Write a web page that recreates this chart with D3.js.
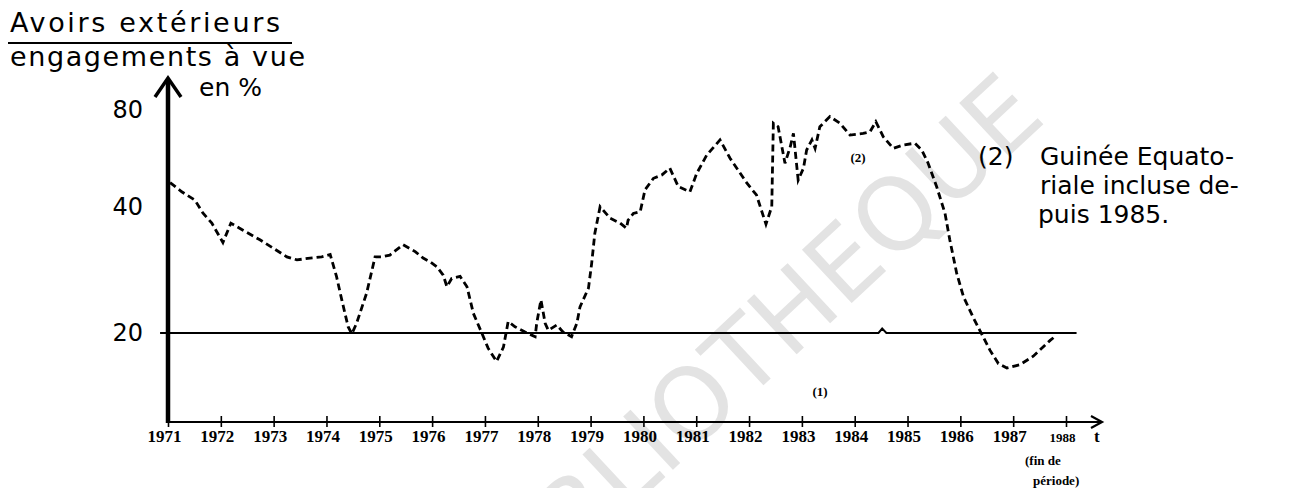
<!DOCTYPE html>
<html>
<head>
<meta charset="utf-8">
<script src="https://cdn.jsdelivr.net/npm/d3@7"></script>
<style>
  body { margin: 0; background: #fff; }
  svg { display: block; }
</style>
</head>
<body>
<div id="chart"></div>
<script>
// série (2) : avoirs extérieurs / engagements à vue, en %
const years_2 = [1971.04, 1971.26, 1971.51, 1971.66, 1971.83, 1972.04, 1972.19, 1972.42, 1972.74, 1972.99,
    1973.25, 1973.44, 1973.69, 1973.91, 1974.07, 1974.19, 1974.29, 1974.41, 1974.48, 1974.57,
    1974.76, 1974.92, 1975.05, 1975.20, 1975.45, 1975.68, 1975.83, 1975.96, 1976.09, 1976.21,
    1976.28, 1976.37, 1976.53, 1976.66, 1976.78, 1976.94, 1977.06, 1977.22, 1977.35, 1977.44,
    1977.57, 1977.76, 1977.95, 1977.98, 1978.06, 1978.14, 1978.20, 1978.36, 1978.48, 1978.64,
    1978.74, 1978.80, 1978.86, 1978.96, 1979.02, 1979.08, 1979.18, 1979.37, 1979.56, 1979.68,
    1979.71, 1979.81, 1979.94, 1980.03, 1980.19, 1980.35, 1980.50, 1980.66, 1980.88, 1981.01,
    1981.20, 1981.45, 1981.64, 1981.96, 1982.14, 1982.32, 1982.43, 1982.46, 1982.55, 1982.68,
    1982.78, 1982.84, 1982.93, 1983.03, 1983.09, 1983.19, 1983.25, 1983.34, 1983.53, 1983.72,
    1983.91, 1984.16, 1984.29, 1984.40, 1984.54, 1984.73, 1984.92, 1985.14, 1985.27, 1985.39,
    1985.55, 1985.71, 1985.80, 1985.93, 1986.06, 1986.25, 1986.43, 1986.56, 1986.72, 1986.88,
    1987.13, 1987.38, 1987.70, 1987.81];
const ratio_2 = [47.6, 44.6, 42.0, 38.7, 36.6, 32.9, 36.6, 35.2, 33.4, 31.9,
    30.4, 29.9, 30.2, 30.4, 30.8, 27.3, 24.0, 20.7, 19.9, 21.1,
    24.9, 30.4, 30.4, 30.7, 32.5, 31.3, 30.2, 29.6, 28.8, 27.5,
    25.8, 27.0, 27.3, 25.8, 22.3, 20.0, 18.4, 17.1, 18.5, 21.3,
    20.7, 20.1, 19.6, 21.1, 24.0, 21.1, 20.3, 20.9, 20.1, 19.6,
    21.1, 23.1, 24.0, 25.6, 29.3, 34.6, 40.1, 37.6, 36.6, 35.6,
    37.2, 38.6, 39.0, 45.2, 49.1, 50.3, 52.8, 46.3, 44.6, 50.9,
    58.0, 64.6, 56.7, 47.4, 43.6, 36.4, 40.1, 72.8, 71.0, 54.7,
    61.5, 67.7, 48.5, 52.8, 60.1, 64.6, 60.8, 71.0, 76.3, 72.8,
    66.9, 67.7, 68.5, 73.6, 66.1, 60.8, 62.3, 63.1, 60.1, 54.7,
    46.3, 38.6, 33.4, 27.8, 24.4, 21.7, 19.6, 18.2, 16.9, 16.5,
    16.8, 17.6, 19.2, 19.7];

// série (1) : seuil de 20 %
const years_1 = [1970.85, 1984.45, 1984.52, 1984.6, 1988.2];
const ratio_1 = [20, 20, 20.5, 20, 20];

const tick_years = [1971, 1972, 1973, 1974, 1975, 1976, 1977, 1978, 1979, 1980,
    1981, 1982, 1983, 1984, 1985, 1986, 1987, 1988];
const y_ticks = [20, 40, 80];

function draw_chart()
{
    const width = 1292, height = 488;
    const svg = d3.select("#chart").append("svg")
        .attr("width", width)
        .attr("height", height);

    // axe vertical dessiné à la main : échelle log par morceaux
    const scale_x = d3.scaleLinear().domain([1971, 1988]).range([168, 1066]);
    const scale_y = d3.scaleLog().domain([20, 40, 80]).range([333, 207, 110]);
    const axis_y0 = 422;

    // filigrane du scan
    svg.append("text")
        .attr("transform", "translate(1048,120) rotate(-43)")
        .attr("text-anchor", "end")
        .style("font-family", "DejaVu Sans")
        .style("font-size", "100px")
        .attr("fill", "#e3e3e3")
        .text("BIBLIOTHEQUE");

    // titre
    const title = svg.append("g").style("font-family", "DejaVu Sans").style("font-size", "27px");
    title.append("text").attr("x", 10).attr("y", 32)
        .attr("textLength", 270).attr("lengthAdjust", "spacing").text("Avoirs extérieurs");
    title.append("line").attr("x1", 8).attr("x2", 292).attr("y1", 43).attr("y2", 43)
        .attr("stroke", "black").attr("stroke-width", 2);
    title.append("text").attr("x", 10).attr("y", 66)
        .attr("textLength", 295).attr("lengthAdjust", "spacing").text("engagements à vue");
    title.append("text").attr("x", 199).attr("y", 96).style("font-size", "25px").text("en %");

    // axe des x
    const x_axis = svg.append("g")
        .attr("transform", `translate(0, ${axis_y0})`)
        .call(d3.axisBottom(scale_x).tickValues(tick_years).tickFormat(d3.format("d")).tickSize(5));
    x_axis.select(".domain").remove();
    x_axis.selectAll(".tick line").attr("y1", -6).attr("y2", 5).attr("stroke-width", 1.6);
    x_axis.selectAll(".tick text")
        .attr("y", 20).attr("dy", 0).attr("dx", -4)
        .style("font-family", "Liberation Serif")
        .style("font-weight", "bold")
        .style("font-size", d => d === 1988 ? "13px" : "17px");

    const x_end = 1102;
    svg.append("line")
        .attr("x1", scale_x(1971)).attr("x2", x_end)
        .attr("y1", axis_y0).attr("y2", axis_y0)
        .attr("stroke", "black").attr("stroke-width", 2);
    svg.append("path")
        .attr("d", `M${x_end - 11},${axis_y0 - 6}L${x_end},${axis_y0}L${x_end - 11},${axis_y0 + 6}`)
        .attr("fill", "none").attr("stroke", "black").attr("stroke-width", 2.2);

    // axe des y
    const y_axis = svg.append("g")
        .attr("transform", `translate(${scale_x(1971)}, 0)`)
        .call(d3.axisLeft(scale_y).tickValues(y_ticks).tickFormat(d3.format("d")).tickSize(0).tickPadding(25));
    y_axis.select(".domain").remove();
    y_axis.selectAll(".tick text")
        .style("font-family", "DejaVu Sans")
        .style("font-size", "24px");

    const x0 = scale_x(1971);
    svg.append("line")
        .attr("x1", x0).attr("x2", x0)
        .attr("y1", axis_y0 + 1).attr("y2", 80)
        .attr("stroke", "black").attr("stroke-width", 4.5);
    svg.append("path")
        .attr("d", `M${x0 - 13},${97}L${x0},${78}L${x0 + 13},${97}`)
        .attr("fill", "none").attr("stroke", "black").attr("stroke-width", 3.5);

    // courbes
    const line = d3.line()
        .x(d => scale_x(d[0]))
        .y(d => scale_y(d[1]));

    svg.append("path")
        .datum(d3.zip(years_1, ratio_1))
        .attr("d", line)
        .attr("fill", "none")
        .attr("stroke", "black")
        .attr("stroke-width", 2);

    svg.append("path")
        .datum(d3.zip(years_2, ratio_2))
        .attr("d", line)
        .attr("fill", "none")
        .attr("stroke", "black")
        .attr("stroke-width", 2.8)
        .attr("stroke-dasharray", "7,4");

    // repères
    const marks = svg.append("g")
        .style("font-family", "Liberation Serif")
        .style("font-weight", "bold")
        .style("font-size", "13px")
        .attr("text-anchor", "middle");
    marks.append("text").attr("x", 858).attr("y", 162).text("(2)");
    marks.append("text").attr("x", 820).attr("y", 396).text("(1)");

    const foot = svg.append("g")
        .style("font-family", "Liberation Serif")
        .style("font-weight", "bold");
    foot.append("text").attr("x", 1094).attr("y", 442).style("font-size", "17px").text("t");
    foot.append("text").attr("x", 1025).attr("y", 465).style("font-size", "13px").text("(fin de");
    foot.append("text").attr("x", 1033).attr("y", 485).style("font-size", "13px").text("période)");

    // note
    const note = svg.append("g").style("font-family", "DejaVu Sans").style("font-size", "25px");
    note.append("text").attr("x", 978).attr("y", 165).text("(2)");
    note.append("text").attr("x", 1040).attr("y", 165).text("Guinée Equato-");
    note.append("text").attr("x", 1040).attr("y", 194).text("riale incluse de-");
    note.append("text").attr("x", 1038).attr("y", 223).text("puis 1985.");
}
draw_chart();
</script>
</body>
</html>
